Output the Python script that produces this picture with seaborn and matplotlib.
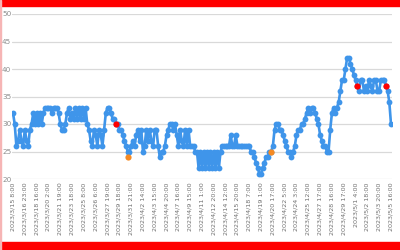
import matplotlib
matplotlib.use("Agg")
import matplotlib.pyplot as plt
import matplotlib.patches as mpatches
import seaborn as sns
import pandas as pd

tick_labels = [
    "2023/3/15 8:00", "2023/3/16 23:00", "2023/3/18 16:00", "2023/3/20 2:00",
    "2023/3/21 19:00", "2023/3/23 18:00", "2023/3/25 8:00", "2023/3/26 6:00",
    "2023/3/27 19:00", "2023/3/29 18:00", "2023/3/31 21:00", "2023/4/2 14:00",
    "2023/4/3 15:00", "2023/4/4 20:00", "2023/4/7 16:00", "2023/4/9 15:00",
    "2023/4/11 1:00", "2023/4/12 20:00", "2023/4/14 12:00", "2023/4/15 20:00",
    "2023/4/18 7:00", "2023/4/19 1:00", "2023/4/20 17:00", "2023/4/22 5:00",
    "2023/4/24 3:00", "2023/4/25 12:00", "2023/4/27 17:00", "2023/4/28 16:00",
    "2023/4/29 17:00", "2023/5/1 4:00", "2023/5/2 18:00", "2023/5/3 20:00",
    "2023/5/5 16:00",
]
label_step = 7

values = [
    32, 30, 26, 27, 29, 27, 26,
    29, 27, 26, 29, 30, 32, 30,
    32, 30, 32, 30, 32, 33, 33,
    33, 33, 32, 33, 33, 33, 32,
    30, 29, 29, 30, 32, 33, 31,
    32, 31, 33, 31, 33, 31, 33,
    31, 33, 30, 29, 27, 26, 29,
    28, 26, 29, 28, 26, 29, 32,
    33, 33, 32, 31, 31, 30, 30,
    29, 29, 28, 27, 26, 25, 25,
    26, 27, 26, 28, 29, 27, 29,
    25, 26, 29, 27, 29, 27, 26,
    29, 29, 26, 24, 25, 25, 26,
    28, 29, 30, 30, 29, 30, 28,
    26, 29, 27, 26, 29, 26, 29,
    26, 26, 26, 25, 25, 22, 25,
    22, 25, 22, 25, 22, 25, 22,
    25, 22, 25, 22, 25, 26, 26,
    26, 26, 26, 28, 26, 26, 28,
    26, 26, 26, 26, 26, 26, 26,
    26, 25, 25, 24, 23, 22, 21,
    21, 22, 23, 24, 24, 25, 25,
    26, 29, 30, 30, 29, 29, 28,
    27, 26, 25, 25, 24, 25, 26,
    28, 29, 29, 30, 30, 31, 32,
    33, 32, 33, 33, 32, 31, 30,
    28, 27, 26, 26, 25, 25, 29,
    32, 33, 32, 33, 34, 36, 38,
    38, 40, 42, 42, 41, 40, 39,
    38, 37, 36, 38, 38, 36, 37,
    36, 38, 37, 36, 38, 38, 36,
    36, 38, 38, 38, 37, 36, 34,
    30,
]

red_idx = [61, 204, 221]
red_vals = [30, 37, 37]
orange_idx = [68, 153]
orange_vals = [24, 25]

y_ticks = [20, 25, 30, 35, 40, 45, 50]

sns.set_theme(style="white")
plt.rcParams["font.family"] = ["DejaVu Sans"]

fig = plt.figure(figsize=(4, 2.5), dpi=100)
ax = fig.add_axes([0.03, 0.284, 0.95, 0.66])

df = pd.DataFrame({"idx": list(range(len(values))), "val": values})
sns.lineplot(data=df, x="idx", y="val", ax=ax, color="#3f95ea", linewidth=1.9,
             marker="o", markersize=4.2, markeredgewidth=0, zorder=3)
sns.scatterplot(x=red_idx, y=red_vals, ax=ax, color="#ff0000", s=20,
                linewidth=0, zorder=5)
sns.scatterplot(x=orange_idx, y=orange_vals, ax=ax, color="#f58a23", s=20,
                linewidth=0, zorder=5)

ax.set_xlim(-0.6, len(values) - 1 + 0.6)
ax.set_ylim(20, 50)
ax.set_yticks(y_ticks)
ax.set_yticklabels([str(v) for v in y_ticks], fontsize=5.2, color="#8c8c8c")
ax.set_xticks(list(range(0, len(values), label_step)))
ax.set_xticklabels(tick_labels, rotation=90, fontsize=4.6, color="#707070")
ax.tick_params(axis="both", length=0, pad=2.5)
ax.tick_params(axis="y", pad=0.5)
ax.grid(axis="y", color="#d9d9d9", linewidth=0.9)
ax.grid(axis="x", visible=False)
for s in ax.spines.values():
    s.set_visible(False)
ax.set_xlabel("")
ax.set_ylabel("")

# red frame bars of the screenshot
fig.patches.append(mpatches.Rectangle((0, 1 - 6 / 250), 1, 6 / 250,
                                      transform=fig.transFigure, color="#ff0000", zorder=10))
fig.patches.append(mpatches.Rectangle((0, 0), 1, 8 / 250,
                                      transform=fig.transFigure, color="#ff0000", zorder=10))
fig.patches.append(mpatches.Rectangle((0, 0), 1.2 / 400, 1,
                                      transform=fig.transFigure, color="#f6b5b5", zorder=10))

fig.savefig("out.png", dpi=100)
